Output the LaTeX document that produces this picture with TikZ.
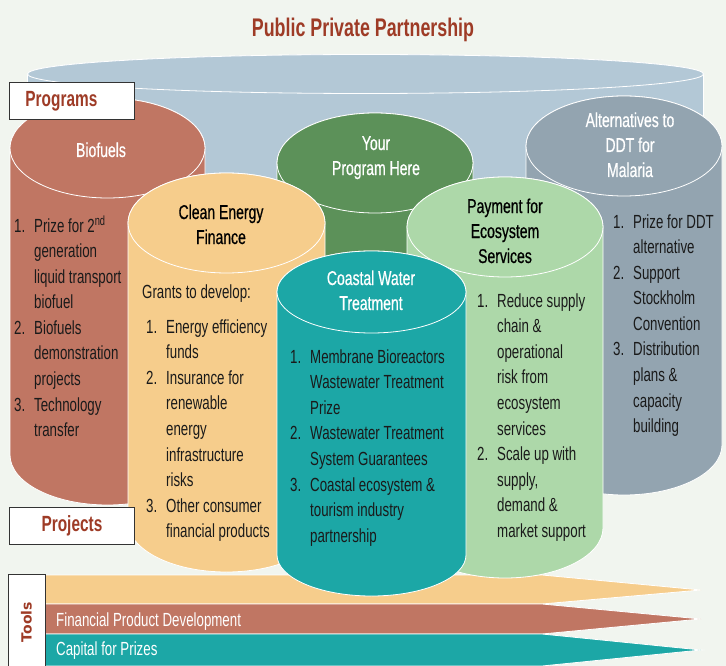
\documentclass[tikz,border=0pt]{standalone}
\usepackage{fontspec}
\setmainfont{Liberation Sans}[FakeStretch=0.7]
\newfontfamily\headfont{Liberation Sans}[FakeStretch=0.7,FakeBold=0.6]
\newfontfamily\toolsfont{DejaVu Sans}
\usetikzlibrary{positioning}

\definecolor{pppbg}{HTML}{F1F5EF}
\definecolor{pppsky}{HTML}{B3C8D6}
\definecolor{ppprust}{HTML}{C07663}
\definecolor{pppsand}{HTML}{F6CD8C}
\definecolor{pppmoss}{HTML}{5C9159}
\definecolor{pppmint}{HTML}{ADD8A9}
\definecolor{pppslate}{HTML}{93A4B0}
\definecolor{pppteal}{HTML}{1CA7A6}
\definecolor{pppred}{HTML}{9E3B26}
\definecolor{pppink}{HTML}{1A1A1A}

\tikzset{%
	can/.style={draw=white, line width=0.8pt},
	band/.style={draw=white, line width=0.8pt},
	head/.style={font=\headfont\fontsize{20}{25}\selectfont, text=white, inner sep=0pt, anchor=base},
	darkhead/.style={head, text=black},
	items/.style={font=\fontsize{19}{25.6}\selectfont, text=pppink, inner sep=0pt, anchor=base west},
	tag/.style={draw=black!80, line width=0.9pt, fill=white, text=pppred,%
		font=\bfseries\fontsize{22}{26}\selectfont, inner sep=0pt},
	bandtext/.style={text=white, font=\fontsize{19}{22}\selectfont, inner sep=0pt, anchor=base west}
}

% fill, cx, top cy, bottom cy, rx, ry
\newcommand{\drawcan}[6]{%
	\path[can, fill=#1] ({#2-#5},#3) -- ({#2-#5},#4)
		arc[start angle=180, end angle=0, x radius=#5, y radius=#6]
		-- ({#2+#5},#3)
		arc[start angle=0, end angle=-180, x radius=#5, y radius=#6] -- cycle;
	\path[can, fill=#1] (#2,#3) ellipse[x radius=#5, y radius=#6];
}
\newcommand{\canlabel}[1]{\begin{tabular}[t]{@{}c@{}}#1\end{tabular}}
\newcommand{\canlist}[1]{\begin{tabular}[t]{@{}p{20pt}@{}l@{}}#1\end{tabular}}

\begin{document}
\begin{tikzpicture}[x=1pt, y=-1pt]
	\useasboundingbox (0,0) rectangle (726,666);
	\fill[pppbg] (0,0) rectangle (726,666);

	\node[font=\bfseries\fontsize{25.5}{30}\selectfont, text=pppred, inner sep=0pt, anchor=base] (title) at (363,37) {Public Private Partnership};

	\drawcan{pppsky}{365.5}{74}{250}{338}{19.5}

	% tools
	\path[band, fill=pppsand] (45,575) -- (542,575) -- (701,590) -- (542,604) -- (45,604) -- cycle;
	\path[band, fill=ppprust] (45,604) -- (542,604) -- (701,619) -- (542,634) -- (45,634) -- cycle;
	\path[band, fill=pppteal] (45,634) -- (542,634) -- (701,650) -- (542,666) -- (45,666) -- cycle;

	% programs
	\drawcan{ppprust}{107.5}{148}{455}{97.5}{50}
	\drawcan{pppmoss}{375}{163}{380}{98}{50}
	\drawcan{pppslate}{624}{146}{445}{98}{50}
	\drawcan{pppsand}{226.5}{223}{522}{98.5}{50}
	\drawcan{pppmint}{505}{227}{528}{98}{50}
	\drawcan{pppteal}{371.5}{292}{555}{94.5}{41}

	\node[head] (bioHead) at (101,157) {Biofuels};
	\node[items] (bioList) at (14,232) {\canlist{%
		1. & Prize for 2\textsuperscript{nd}\\
		   & generation\\
		   & liquid transport\\
		   & biofuel\\
		2. & Biofuels\\
		   & demonstration\\
		   & projects\\
		3. & Technology\\
		   & transfer}};

	\node[head] (ypHead) at (376,150) {\canlabel{Your\\Program Here}};

	\node[head] (ddtHead) at (630,127) {\canlabel{Alternatives to\\DDT for\\Malaria}};
	\node[items] (ddtList) at (613,228) {\canlist{%
		1. & Prize for DDT\\
		   & alternative\\
		2. & Support\\
		   & Stockholm\\
		   & Convention\\
		3. & Distribution\\
		   & plans \&\\
		   & capacity\\
		   & building}};

	\node[darkhead] (cefHead) at (221,219) {\canlabel{Clean Energy\\Finance}};
	\node[items] (cefIntro) at (142,298) {Grants to develop:};
	\node[items] (cefList) at (146,333) {\canlist{%
		1. & Energy efficiency\\
		   & funds\\
		2. & Insurance for\\
		   & renewable\\
		   & energy\\
		   & infrastructure\\
		   & risks\\
		3. & Other consumer\\
		   & financial products}};

	\node[darkhead] (pesHead) at (505,213) {\canlabel{Payment for\\Ecosystem\\Services}};
	\node[items] (pesList) at (477,307) {\canlist{%
		1. & Reduce supply\\
		   & chain \&\\
		   & operational\\
		   & risk from\\
		   & ecosystem\\
		   & services\\
		2. & Scale up with\\
		   & supply,\\
		   & demand \&\\
		   & market support}};

	\node[head] (cwtHead) at (371,285) {\canlabel{Coastal Water\\Treatment}};
	\node[items] (cwtList) at (290,363) {\canlist{%
		1. & Membrane Bioreactors\\
		   & Wastewater Treatment\\
		   & Prize\\
		2. & Wastewater Treatment\\
		   & System Guarantees\\
		3. & Coastal ecosystem \&\\
		   & tourism industry\\
		   & partnership}};

	\node[bandtext] (fpd) at (56,626) {Financial Product Development};
	\node[bandtext] (cfp) at (56,655) {Capital for Prizes};

	% labels
	\node[tag, anchor=north west, minimum width=125pt, minimum height=37pt, text width=93pt,%
		inner xsep=16pt, align=left] (programs) at (9,82) {Programs};
	\node[tag, anchor=north west, minimum width=125pt, minimum height=37pt] (projects) at (9,507) {Projects};
	\node[tag, font=\toolsfont\bfseries\fontsize{14}{16}\selectfont, rotate=90,%
		minimum width=95pt, minimum height=37pt] (tools) at (26.5,622) {Tools};
\end{tikzpicture}
\end{document}
